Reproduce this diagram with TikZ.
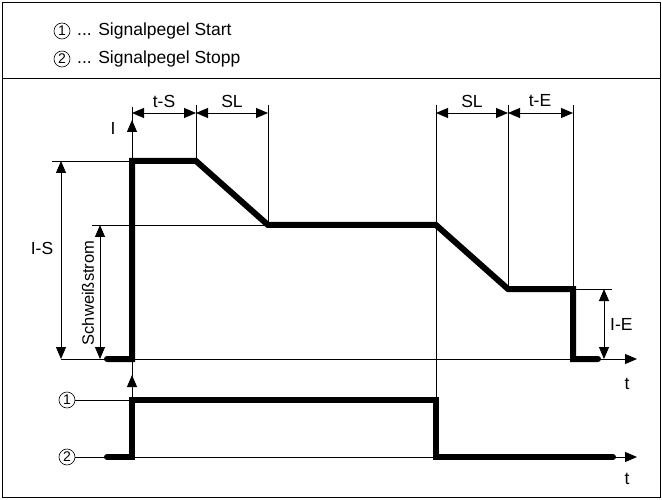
\documentclass[tikz,border=0pt]{standalone}
\usepackage{fontspec}
\setmainfont{Liberation Sans}
\usetikzlibrary{arrows.meta}
\begin{document}
\begin{tikzpicture}[x=1pt,y=-1pt,
  fat/.style={line width=6pt,line cap=round,line join=miter},
  ln/.style={line width=0.8pt},
  tipup/.style={ln,-{Triangle[length=12pt,width=10pt]}},
  dimarr/.style={ln,{Triangle[length=12pt,width=10pt]}-{Triangle[length=12pt,width=10pt]}},
  lbl/.style={font=\fontsize{17.5}{20}\selectfont,inner sep=0pt},
  num/.style={circle,draw,line width=0.6pt,inner sep=0pt,minimum size=16pt,font=\fontsize{14}{14}\selectfont}]
\useasboundingbox (0,0) rectangle (662,500);
% frame
\coordinate (fa) at (2,2);
\coordinate (fb) at (660,497);
\coordinate (sa) at (2,78);
\coordinate (sb) at (660,78);
\draw[ln] (fa) rectangle (fb);
\draw[ln] (sa) -- (sb);
% header
\node[num] (h1) at (62,31) {1};
\node[lbl,anchor=west] (h1t) at (77,31) {... Signalpegel Start};
\node[num] (h2) at (62,59) {2};
\node[lbl,anchor=west] (h2t) at (77,59) {... Signalpegel Stopp};
% key coordinates
\coordinate (ax0) at (61,359);
\coordinate (axe) at (637,359);
\coordinate (iTop) at (132,107);
\coordinate (iBot) at (132,400);
\coordinate (iA1) at (132,140);
\coordinate (iA2) at (132,120);
\coordinate (iB1) at (132,400);
\coordinate (iB2) at (132,375);
% axes
\draw[ln] (iTop) -- (iBot);
\draw[tipup] (iA1) -- (iA2);
\draw[tipup] (iB1) -- (iB2);
\draw[tipup] (ax0) -- (axe);
\node[lbl] (I) at (113,128) {I};
\node[lbl] (t1) at (627,384) {t};
% extension lines
\coordinate (e1a) at (196,105); \coordinate (e1b) at (196,161);
\coordinate (e2a) at (268,105); \coordinate (e2b) at (268,225);
\coordinate (e3a) at (436,105); \coordinate (e3b) at (436,400);
\coordinate (e4a) at (508,105); \coordinate (e4b) at (508,289);
\coordinate (e5a) at (573,105); \coordinate (e5b) at (573,289);
\draw[ln] (e1a) -- (e1b);
\draw[ln] (e2a) -- (e2b);
\draw[ln] (e3a) -- (e3b);
\draw[ln] (e4a) -- (e4b);
\draw[ln] (e5a) -- (e5b);
% top dimensions
\coordinate (d0) at (132,113); \coordinate (d1) at (196,113); \coordinate (d2) at (268,113);
\coordinate (d3) at (436,113); \coordinate (d4) at (508,113); \coordinate (d5) at (573,113);
\draw[dimarr] (d0) -- (d1);
\draw[dimarr] (d1) -- (d2);
\draw[dimarr] (d3) -- (d4);
\draw[dimarr] (d4) -- (d5);
\node[lbl] (ltS) at (164,101) {t-S};
\node[lbl] (lSL1) at (232,101) {SL};
\node[lbl] (lSL2) at (472,101) {SL};
\node[lbl] (ltE) at (540,101) {t-E};
% I-S
\coordinate (is1) at (52,161); \coordinate (is2) at (132,161);
\draw[ln] (is1) -- (is2);
\coordinate (isa) at (61,161); \coordinate (isb) at (61,359);
\draw[dimarr] (isa) -- (isb);
\node[lbl] (lIS) at (42,248) {I-S};
% Schweissstrom
\coordinate (sw1) at (92,225); \coordinate (sw2) at (268,225);
\draw[ln] (sw1) -- (sw2);
\coordinate (swa) at (100,225); \coordinate (swb) at (100,359);
\draw[dimarr] (swa) -- (swb);
\node[lbl,rotate=90,font=\fontsize{16.5}{18}\selectfont] (lsw) at (88,293) {Schweißstrom};
% I-E
\coordinate (ie1) at (573,289); \coordinate (ie2) at (612,289);
\draw[ln] (ie1) -- (ie2);
\coordinate (iea) at (604,289); \coordinate (ieb) at (604,359);
\draw[dimarr] (iea) -- (ieb);
\node[lbl,anchor=west] (lIE) at (610,324) {I-E};
% lower signal graph
\node[num] (c1) at (67,400) {1};
\node[num] (c2) at (67,457) {2};
\coordinate (l2e) at (637,457);
\draw[ln] (c1) -- (iB1);
\draw[tipup] (c2) -- (l2e);
\node[lbl] (t2) at (627,479) {t};
% thick current curve
\draw[fat] (107,359) -- (132,359) -- (132,161) -- (196,161) -- (268,225) -- (436,225)
  -- (508,289) -- (573,289) -- (573,359) -- (598,359);
% thick signal curve
\draw[fat] (107,457) -- (132,457) -- (132,400) -- (436,400) -- (436,457) -- (613,457);
\end{tikzpicture}
\end{document}
